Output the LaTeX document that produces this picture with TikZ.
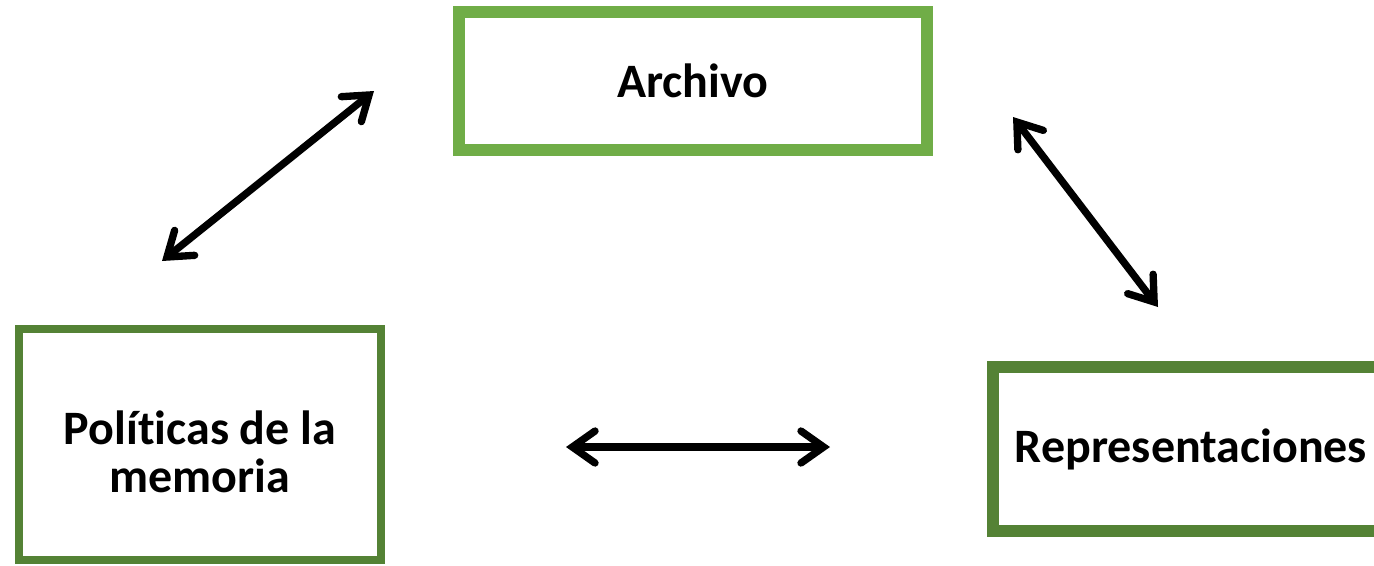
\documentclass[tikz,border=0pt]{standalone}
\usepackage{fontspec}
\setmainfont{Carlito}[Ligatures={NoCommon}]
\usetikzlibrary{arrows.meta}
\definecolor{lightgreen}{HTML}{70AD47}
\definecolor{darkgreen}{HTML}{548235}
\tikzset{
  box/.style={draw, fill=white, inner sep=0pt, align=center,
    font=\fontsize{36}{35.5}\selectfont\bfseries},
  link/.style={line width=5.5pt, line cap=round,
    {Straight Barb[length=17pt,width=24pt,line cap=round,line join=miter]}-{Straight Barb[length=17pt,width=24pt,line cap=round,line join=miter]}}
}
\begin{document}
\begin{tikzpicture}[x=0.75pt,y=-0.75pt]
\useasboundingbox (0,0) rectangle (1374,565);
\node[box, draw=lightgreen, line width=9pt, minimum width=351pt, minimum height=103pt] (arch) at (693,81) {Archivo};
\node[box, draw=darkgreen, line width=6pt, minimum width=271.5pt, minimum height=173pt] (pol) at (200,444.5) {\rule{0pt}{36pt}Políticas de la\\memoria};
\node[box, draw=darkgreen, line width=9pt, minimum width=297pt, minimum height=123pt] (rep) at (1191,449) {Representaciones};
\coordinate (a1) at (162,261);
\coordinate (a2) at (374,91);
\coordinate (b1) at (1013,117);
\coordinate (b2) at (1158,307);
\coordinate (c1) at (566,447);
\coordinate (c2) at (830,447);
\draw[link] (a1) -- (a2);
\draw[link] (b1) -- (b2);
\draw[link] (c1) -- (c2);
\end{tikzpicture}
\end{document}
